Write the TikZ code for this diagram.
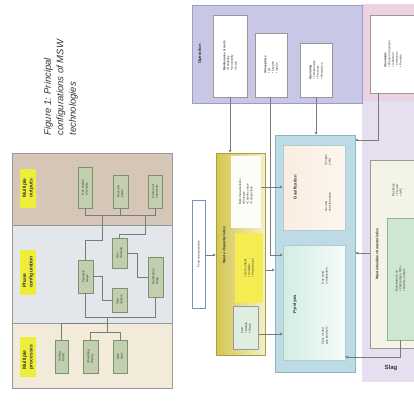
\documentclass[tikz,border=0pt]{standalone}
\usepackage{fontspec}
\setmainfont{Liberation Sans}
\usetikzlibrary{arrows.meta}
\definecolor{bandtop}{HTML}{D6C6B8}
\definecolor{bandmid}{HTML}{E3E7EC}
\definecolor{bandbot}{HTML}{F2EBD9}
\definecolor{frm}{HTML}{999999}
\definecolor{gfill}{HTML}{C2CFAE}
\definecolor{gborder}{HTML}{7F8F70}
\definecolor{hl}{HTML}{EEEE3A}
\definecolor{opfill}{HTML}{C8C8E6}
\definecolor{opdraw}{HTML}{9C9CC8}
\definecolor{pinkp}{HTML}{EBD3E3}
\definecolor{lav}{HTML}{E6DFF0}
\definecolor{yl}{HTML}{D4C650}
\definecolor{yr}{HTML}{F3EFC8}
\definecolor{ybright}{HTML}{F4EC50}
\definecolor{teal}{HTML}{BCDBE5}
\definecolor{tealdraw}{HTML}{8FB5C5}
\definecolor{gasmid}{HTML}{F5CFA8}
\definecolor{gasl}{HTML}{FBECE0}
\definecolor{gasr}{HTML}{FDF6EE}
\definecolor{pyl}{HTML}{D3EDE3}
\definecolor{pyr}{HTML}{F5FBF8}
\definecolor{emf}{HTML}{F3F3E6}
\definecolor{em2f}{HTML}{CFE6D2}
\definecolor{em2d}{HTML}{8FB09A}
\definecolor{feedd}{HTML}{7D8FBD}
\definecolor{lgray}{HTML}{7A7A7A}
\definecolor{txt}{HTML}{333333}
\tikzset{
  rect/.style={rectangle, inner sep=0pt, outer sep=0pt},
  gbox/.style={rect, draw=gborder, fill=gfill, line width=0.6pt},
  rt/.style={rotate=90, align=left, inner sep=0pt, text=txt, font=\fontsize{3}{3.8}\selectfont},
  rtb/.style={rotate=90, align=left, inner sep=0pt, text=txt, font=\fontsize{4.2}{5}\selectfont\bfseries},
  hlab/.style={rect, rotate=90, align=left, fill=hl, text=txt, font=\fontsize{5}{6.5}\selectfont\bfseries},
  conn/.style={draw=lgray, line width=0.7pt},
  arr/.style={conn, -{Latex[length=3pt,width=3pt]}},
}
\begin{document}
\begin{tikzpicture}[x=1pt,y=-1pt]
\useasboundingbox (0,0) rectangle (414,400);
% ---------------- left figure ----------------
\node[rotate=90, anchor=west, align=left, font=\fontsize{9.5}{12.5}\selectfont\itshape, text=txt] (fig) at (61,139)
  {Figure 1: Principal\\configurations of MSW\\technologies};
\node[rect, fill=bandtop, minimum width=160, minimum height=72] (btop) at (92,189) {};
\node[rect, fill=bandmid, minimum width=160, minimum height=98] (bmid) at (92,274) {};
\node[rect, fill=bandbot, minimum width=160, minimum height=65] (bbot) at (92,355.5) {};
\draw[frm, line width=0.8pt] (btop.north west) rectangle (bbot.south east);
\draw[frm, line width=0.8pt] (btop.south west) -- (btop.south east);
\draw[frm, line width=0.8pt] (bmid.south west) -- (bmid.south east);
\node[hlab, minimum width=39, minimum height=16] (ltop) at (28,188) {Multiple\\outputs};
\node[hlab, minimum width=45, minimum height=16] (lmid) at (28,272) {Phase\\configuration};
\node[hlab, minimum width=40, minimum height=16] (lbot) at (28,357) {Multiple\\processes};
% top band boxes
\node[gbox, minimum width=14, minimum height=41] (t1) at (85,187.5) {};
\node[rt] at (t1) {Gas engine\\electricity};
\node[gbox, minimum width=15, minimum height=33] (t2) at (120.5,191.5) {};
\node[rt] at (t2) {Heat and\\power};
\node[gbox, minimum width=14, minimum height=33] (t3) at (155,191.5) {};
\node[rt] at (t3) {Fuels and\\chemicals};
% middle band boxes
\node[gbox, minimum width=15, minimum height=33] (m1) at (85.5,276.5) {};
\node[rt] at (m1) {Pyrolysis\\stage};
\node[gbox, minimum width=15, minimum height=30] (m2) at (119.5,253) {};
\node[rt] at (m2) {Gas\\cleaning};
\node[gbox, minimum width=15, minimum height=24] (m3) at (119.5,300) {};
\node[rt] at (m3) {Char\\residue};
\node[gbox, minimum width=15, minimum height=40] (m4) at (155.5,277) {};
\node[rt] at (m4) {Gasification\\stage};
% bottom band boxes
\node[gbox, minimum width=13, minimum height=33] (b1) at (61.5,356.5) {};
\node[rt] at (b1) {Sorting\\MSW};
\node[gbox, minimum width=15, minimum height=33] (b2) at (90.5,356.5) {};
\node[rt] at (b2) {Shredding\\drying};
\node[gbox, minimum width=14, minimum height=33] (b3) at (120,356.5) {};
\node[rt] at (b3) {RDF\\feed};
% connectors left
\coordinate (jt) at (120.5,215);
\draw[conn] (t1.south) -- (85,215) -- (155,215) -- (t3.south);
\draw[conn] (t2.south) -- (jt);
\draw[conn] (102,215) -- (102,240) -| (m1.north);
\draw[conn] (145,215) -- (145,234) -| (m2.north);
\draw[conn] (m1.east) -- (102,276.5) |- (m3.west);
\draw[conn] (m2.east) -- (137,253) |- (m4.west);
\draw[conn] (m1.south) -- (85.5,317) -- (155.5,317) -- (m4.south);
\draw[conn] (107,317) -- (107,323) -- (61.5,323) -- (b1.north);
\draw[conn] (107,323) -- (107,332) -- (90.5,332) -- (b2.north);
\draw[conn] (107,332) -- (120,332) -- (b3.north);
% ---------------- right figure ----------------
\node[rect, fill=lav, minimum width=52, minimum height=282] (lavcol) at (388,241) {};
\node[rect, fill=pinkp, minimum width=52, minimum height=97] (pk) at (388,52) {};
\node[rect, draw=frm, fill=white, line width=0.6pt, minimum width=46, minimum height=78] (pk1) at (393,54) {};
\node[rt] at (pk1) {\textbf{Standards}\\ \textbullet\ Waste incineration\\ \textbullet\ Industrial\\ \ \ emissions\\ \textbullet\ Permits};
\node[rect, fill=opfill, draw=opdraw, line width=0.6pt, minimum width=170, minimum height=98] (op) at (277,54) {};
\node[rtb] at (200,54) {Operation};
\node[rect, fill=white, draw=frm, line width=0.6pt, minimum width=34, minimum height=82] (o1) at (230,56) {};
\node[rt] at (o1) {\textbf{Maintenance \& costs}\\ \textbullet\ Reliability\\ \textbullet\ Availability\\ \textbullet\ Scale};
\node[rect, fill=white, draw=frm, line width=0.6pt, minimum width=32, minimum height=64] (o2) at (271,65) {};
\node[rt] at (o2) {\textbf{Atmosphere}\\ \textbullet\ Air\\ \textbullet\ Oxygen\\ \textbullet\ Steam};
\node[rect, fill=white, draw=frm, line width=0.6pt, minimum width=32, minimum height=54] (o3) at (316,70) {};
\node[rt] at (o3) {\textbf{Operating}\\ \textbullet\ Temperature\\ \textbullet\ Pressure\\ \textbullet\ Residence};
% feed characteristics
\node[rect, fill=white, draw=feedd, line width=0.7pt, minimum width=13, minimum height=108] (fc) at (198.5,254) {};
\node[rt] at (fc) {Feed characteristics};
% waste characteristics (yellow)
\node[rect, left color=yl, right color=yr, draw=yl!80!black, line width=0.6pt, minimum width=49, minimum height=202] (wc) at (240.5,254) {};
\node[rtb, font=\fontsize{3.6}{4.2}\selectfont\bfseries] at (224,245) {Waste characteristics};
\node[rect, fill=white!85!yr, minimum width=30, minimum height=72] (wc1) at (246,192) {};
\node[rt] at (wc1) {Bulk characteristics\\ \textbullet\ Moisture\\ \textbullet\ Calorific value\\ \textbullet\ Composition};
\node[rect, fill=ybright, minimum width=28, minimum height=70] (wc2) at (249,268) {};
\node[rt] at (wc2) {\textbullet\ Ash content\\ \textbullet\ Volatiles\\ \textbullet\ Particle size};
\node[rect, fill=em2f!70!white, draw=frm, line width=0.5pt, minimum width=25, minimum height=43] (wc3) at (246,328) {};
\node[rt] at (wc3) {Inert\\ \textbullet\ Metals\\ \textbullet\ Glass};
% teal frame
\node[rect, fill=teal, draw=tealdraw, line width=0.7pt, minimum width=80, minimum height=237] (tf) at (315,253.5) {};
\node[rect, shading=axis, left color=gasl, middle color=gasmid, right color=gasr, shading angle=90, draw=tealdraw!70, line width=0.4pt, minimum width=62, minimum height=85] (gs) at (314,187.5) {};
\node[rtb] at (295,187) {Gasification};
\node[rt] at (328,160) {Syngas\\ yield};
\node[rt] at (328,202) {Tar and\\ char formation};
\node[rect, left color=pyl, right color=pyr, draw=tealdraw!70, line width=0.4pt, minimum width=62, minimum height=115] (py) at (314,302.5) {};
\node[rtb] at (295,304) {Pyrolysis};
\node[rt] at (325,276) {Gas yield\\ composition};
\node[rt] at (325,336) {Char, oil and\\ gas products};
% emissions
\node[rect, fill=emf, draw=frm, line width=0.6pt, minimum width=44, minimum height=188] (em) at (392,254) {};
\node[rtb, font=\fontsize{3.6}{4.2}\selectfont\bfseries] at (377,254) {Waste/residue characteristics};
\node[rt] at (397,190) {Residues\\ \textbullet\ Fly ash\\ \textbullet\ APC};
\node[rect, fill=em2f, draw=em2d, line width=0.6pt, minimum width=27, minimum height=122] (em2) at (400.5,279) {};
\node[rt] at (em2) {Emissions to air\\ \textbullet\ Particulates, NOx\\ \textbullet\ Dioxins, metals};
\node[font=\fontsize{6}{7}\selectfont\bfseries, text=txt] (slag) at (391,368) {Slag};
% right connectors
\draw[arr] (o1.south) -- (wc.north -| o1.south);
\draw[arr] (o3.south) -- (tf.north -| o3.south);
\coordinate (o2b) at (270,255);
\draw[arr] (o2.south -| o2b) -- (o2b) -- (py.west |- o2b);
\draw[arr] (fc.east |- 0,255) -- (wc.west |- 0,255);
\draw[arr] (wc1.east |- 0,187) -- (gs.west |- 0,187);
\draw[arr] (wc.east |- 0,270) -- (tf.west |- 0,270);
\draw[arr] (wc3.east |- 0,334) -- (py.west |- 0,334);
\draw[arr] (pk1.south -| 378,0) -- (378,140) -- (tf.east |- 0,140);
\draw[arr] (em.west |- 0,253) -- (tf.east |- 0,253);
\draw[arr] (em2.south -| 400,0) -- (400,357) -- (py.east |- 0,357);
\end{tikzpicture}
\end{document}
